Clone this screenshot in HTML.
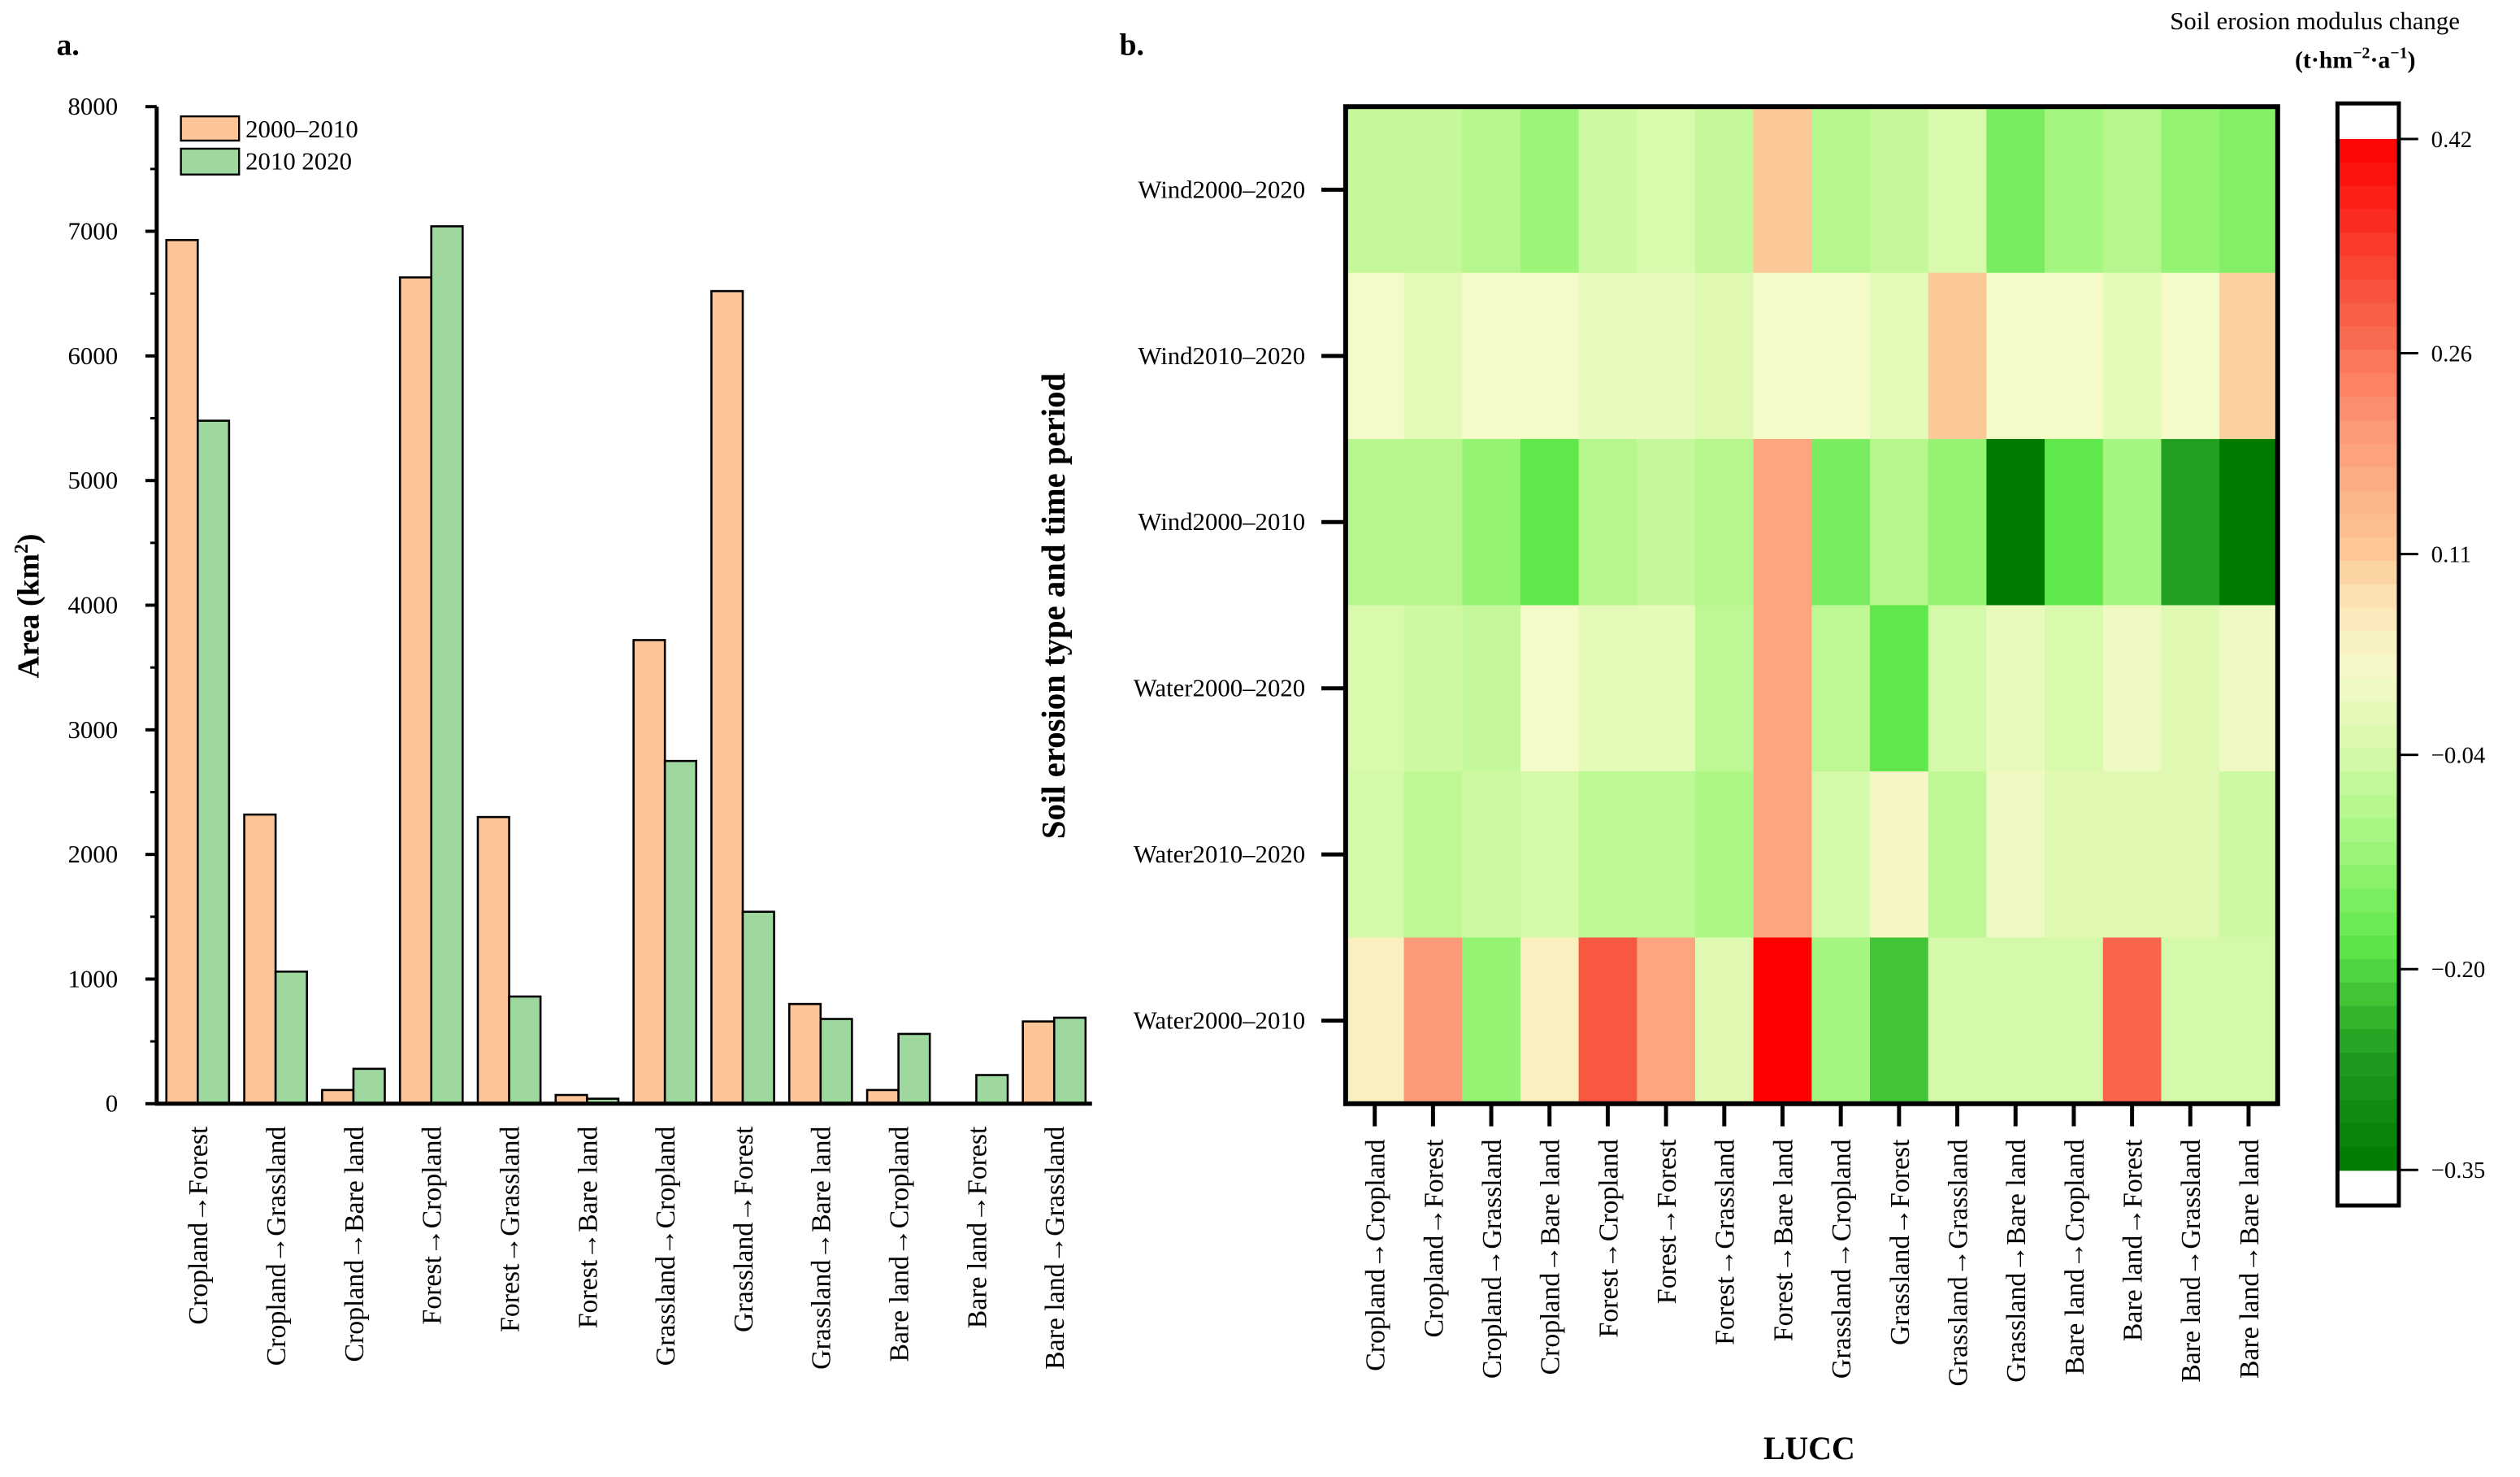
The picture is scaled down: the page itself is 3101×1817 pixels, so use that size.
<!DOCTYPE html>
<html><head><meta charset="utf-8"><style>
html,body{margin:0;padding:0;background:#fff;}
svg{display:block;font-family:"Liberation Serif",serif;}
</style></head><body>
<svg id="fig" width="3101" height="1817" viewBox="0 0 1560 914" preserveAspectRatio="none" xmlns="http://www.w3.org/2000/svg">
<g id="pa"></g>
<g id="pb"></g>
</svg>
<script>
const barCats = ["Cropland\u2192Forest","Cropland\u2192Grassland","Cropland\u2192Bare land","Forest\u2192Cropland","Forest\u2192Grassland","Forest\u2192Bare land","Grassland\u2192Cropland","Grassland\u2192Forest","Grassland\u2192Bare land","Bare land\u2192Cropland","Bare land\u2192Forest","Bare land\u2192Grassland"];
const series2000_2010 = [6930,2320,110,6630,2300,70,3720,6520,800,110,0,660];
const series2010_2020 = [5480,1060,280,7040,860,40,2750,1540,680,560,230,690];
const yTicks = [0,1000,2000,3000,4000,5000,6000,7000,8000];

const heatCols = ["Cropland\u2192Cropland","Cropland\u2192Forest","Cropland\u2192Grassland","Cropland\u2192Bare land","Forest\u2192Cropland","Forest\u2192Forest","Forest\u2192Grassland","Forest\u2192Bare land","Grassland\u2192Cropland","Grassland\u2192Forest","Grassland\u2192Grassland","Grassland\u2192Bare land","Bare land\u2192Cropland","Bare land\u2192Forest","Bare land\u2192Grassland","Bare land\u2192Bare land"];
const heatRows = ["Wind2000\u20132020","Wind2010\u20132020","Wind2000\u20132010","Water2000\u20132020","Water2010\u20132020","Water2000\u20132010"];
const rowWind0020 = [-0.06,-0.06,-0.08,-0.11,-0.05,-0.03,-0.06,0.11,-0.08,-0.06,-0.03,-0.15,-0.10,-0.08,-0.12,-0.14];
const rowWind1020 = [0.02,-0.01,0.02,0.02,0,0,-0.02,0.02,0.02,-0.01,0.11,0.02,0.02,-0.01,0.02,0.10];
const rowWind0010 = [-0.08,-0.08,-0.12,-0.18,-0.08,-0.06,-0.08,0.18,-0.15,-0.08,-0.12,-0.35,-0.18,-0.10,-0.26,-0.35];
const rowWater0020 = [-0.03,-0.05,-0.06,0.02,-0.01,-0.01,-0.07,0.18,-0.07,-0.18,-0.04,0.0,-0.03,0.01,-0.02,0.01];
const rowWater1020 = [-0.04,-0.07,-0.05,-0.04,-0.07,-0.07,-0.09,0.18,-0.04,0.03,-0.07,0.01,-0.02,-0.02,-0.02,-0.05];
const rowWater0010 = [0.05,0.20,-0.12,0.05,0.30,0.18,-0.02,0.42,-0.10,-0.22,-0.04,-0.04,-0.04,0.28,-0.04,-0.04];
const cbTicks = [0.42,0.26,0.11,-0.04,-0.20,-0.35];

const NS="http://www.w3.org/2000/svg";
function mk(parent,tag,attrs,text){const e=document.createElementNS(NS,tag);for(const k in attrs)e.setAttribute(k,attrs[k]);if(text!==undefined)e.textContent=text;parent.appendChild(e);return e;}
const pa=document.getElementById('pa'), pb=document.getElementById('pb');

// Panel A
const ax={x0:97,x1:676,y0:683,y1:66,max:8000};
const yA=v=>ax.y0-(v/ax.max)*(ax.y0-ax.y1);
const gx=i=>103+48.2*i, bw=19.4;
let t=mk(pa,'text',{x:35,y:34,'font-size':19,'font-weight':'bold'},'a.');


barCats.forEach((c,i)=>{
  let r=mk(pa,'rect',{x:gx(i),y:yA(series2000_2010[i]),width:bw,height:ax.y0-yA(series2000_2010[i]),fill:'#fdc597',stroke:'#000','stroke-width':1.3});
  
  
  let g=mk(pa,'rect',{x:gx(i)+bw,y:yA(series2010_2020[i]),width:bw,height:ax.y0-yA(series2010_2020[i]),fill:'#9fd89f',stroke:'#000','stroke-width':1.3});
  
  
  const cx=gx(i)+bw;
  let l=mk(pa,'text',{x:0,y:0,'font-size':17,'text-anchor':'end',transform:`translate(${cx+6},697) rotate(-90)`},c);
  
  
});
yTicks.forEach(v=>{
  mk(pa,'line',{x1:ax.x0-7,x2:ax.x0,y1:yA(v),y2:yA(v),stroke:'#000','stroke-width':2});
  if(v<8000) mk(pa,'line',{x1:ax.x0-4,x2:ax.x0,y1:yA(v+500),y2:yA(v+500),stroke:'#000','stroke-width':1.5});
  let l=mk(pa,'text',{x:73,y:yA(v)+5,'font-size':15.5,'text-anchor':'end'},String(v));
  
  
});
mk(pa,'line',{x1:ax.x0,x2:ax.x0,y1:ax.y1,y2:ax.y0+1,stroke:'#000','stroke-width':2.5});
mk(pa,'line',{x1:ax.x0-1,x2:ax.x1,y1:ax.y0,y2:ax.y0,stroke:'#000','stroke-width':2.5});
t=mk(pa,'text',{x:0,y:0,'font-size':19,'font-weight':'bold','text-anchor':'middle',transform:'translate(24,375) rotate(-90)'});
t.innerHTML='Area (km<tspan font-size="12" dy="-7">2</tspan><tspan dy="7">)</tspan>';


let lg=mk(pa,'g',{});


mk(lg,'rect',{x:112,y:72,width:36,height:15,fill:'#fdc597',stroke:'#000','stroke-width':1.2});
mk(lg,'rect',{x:112,y:92,width:36,height:16,fill:'#9fd89f',stroke:'#000','stroke-width':1.2});
mk(lg,'text',{x:152,y:85,'font-size':15.5},'2000\u20132010');
mk(lg,'text',{x:152,y:105,'font-size':15.5},'2010  2020');

// Panel B
const hm={x0:833,x1:1410,y0:66,y1:683};
const cw=(hm.x1-hm.x0)/heatCols.length, rh=(hm.y1-hm.y0)/heatRows.length;
const rows=[rowWind0020,rowWind1020,rowWind0010,rowWater0020,rowWater1020,rowWater0010];
const stops=[[-0.35,[0,122,0]],[-0.26,[34,160,34]],[-0.18,[95,232,75]],[-0.10,[165,246,128]],[-0.04,[212,249,168]],[0.02,[244,250,200]],[0.07,[253,232,185]],[0.11,[252,200,152]],[0.20,[252,155,120]],[0.30,[248,88,64]],[0.42,[255,0,0]]];
function col(v){if(v<=stops[0][0])return `rgb(${stops[0][1]})`;for(let i=1;i<stops.length;i++){if(v<=stops[i][0]){const a=stops[i-1],b=stops[i],f=(v-a[0])/(b[0]-a[0]);return 'rgb('+a[1].map((c,k)=>Math.round(c+(b[1][k]-c)*f)).join(',')+')';}}return 'rgb(255,0,0)';}
t=mk(pb,'text',{x:693,y:34,'font-size':19,'font-weight':'bold'},'b.');


rows.forEach((row,r)=>{row.forEach((v,c)=>{
  let e=mk(pb,'rect',{x:hm.x0+c*cw,y:hm.y0+r*rh,width:cw+0.5,height:rh+0.5,fill:col(v)});
  
  
});});
mk(pb,'rect',{x:hm.x0,y:hm.y0,width:hm.x1-hm.x0,height:hm.y1-hm.y0,fill:'none',stroke:'#000','stroke-width':3});
heatRows.forEach((n,r)=>{
  const cy=hm.y0+(r+0.5)*rh;
  mk(pb,'line',{x1:818,x2:hm.x0,y1:cy,y2:cy,stroke:'#000','stroke-width':2.5});
  let l=mk(pb,'text',{x:808,y:cy+5,'font-size':15.5,'text-anchor':'end'},n);
  
  
});
heatCols.forEach((n,c)=>{
  const cx=hm.x0+(c+0.5)*cw;
  mk(pb,'line',{x1:cx,x2:cx,y1:hm.y1,y2:hm.y1+14,stroke:'#000','stroke-width':2.5});
  let l=mk(pb,'text',{x:0,y:0,'font-size':17,'text-anchor':'end',transform:`translate(${cx+6},705) rotate(-90)`},n);
  
  
});
t=mk(pb,'text',{x:1120,y:903,'font-size':20,'font-weight':'bold','text-anchor':'middle'},'LUCC');


t=mk(pb,'text',{x:0,y:0,'font-size':20.5,'font-weight':'bold','text-anchor':'middle',transform:'translate(659,375) rotate(-90)'},'Soil erosion type and time period');


// colorbar
const cb={x:1447,w:38,top:86,bot:724,vmax:0.42,vmin:-0.35};
const yC=v=>cb.top+(cb.vmax-v)/(cb.vmax-cb.vmin)*(cb.bot-cb.top);
let cg=mk(pb,'g',{});


const N=44;
for(let i=0;i<N;i++){const v=cb.vmax-(i+0.5)*(cb.vmax-cb.vmin)/N;mk(cg,'rect',{x:cb.x,y:cb.top+i*(cb.bot-cb.top)/N,width:cb.w,height:(cb.bot-cb.top)/N+0.5,fill:col(v)});}
mk(cg,'rect',{x:cb.x,y:64,width:cb.w,height:682,fill:'none',stroke:'#000','stroke-width':2.5});
cbTicks.forEach(v=>{
  mk(cg,'line',{x1:cb.x+cb.w,x2:cb.x+cb.w+12,y1:yC(v),y2:yC(v),stroke:'#000','stroke-width':1.5});
  let l=mk(cg,'text',{x:1505,y:yC(v)+5,'font-size':14.5},(v<0?'\u2212'+Math.abs(v).toFixed(2):v.toFixed(2)));
  
  
});
t=mk(pb,'text',{x:1433,y:18,'font-size':15.5,'text-anchor':'middle'},'Soil erosion modulus change');


t=mk(pb,'text',{x:1458,y:42,'font-size':15,'text-anchor':'middle','font-weight':'bold'});
t.innerHTML='(t·hm<tspan font-size="10" dy="-6">\u22122</tspan><tspan dy="6">·a</tspan><tspan font-size="10" dy="-6">\u22121</tspan><tspan dy="6">)</tspan>';


</script>
</body></html>
